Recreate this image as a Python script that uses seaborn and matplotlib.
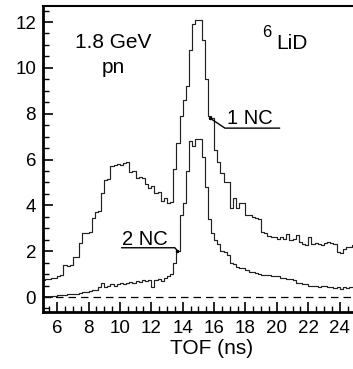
import numpy as np
import pandas as pd
import seaborn as sns
import matplotlib.pyplot as plt
from matplotlib.ticker import MultipleLocator

# TOF bins of 0.2 ns from 5 to 25 ns
edges = [round(5.0 + 0.2 * i, 2) for i in range(101)]
centers = [round(5.1 + 0.2 * i, 2) for i in range(100)]

one_nc = [
    0.75, 0.8, 0.8, 0.85, 0.85, 0.9, 0.95, 1.4, 1.35, 1.4,
    1.75, 1.75, 2.35, 2.8, 2.8, 2.85, 3.45, 3.7, 3.75, 4.55,
    5.1, 5.15, 5.7, 5.75, 5.8, 5.75, 5.85, 5.9, 5.45, 5.5,
    5.2, 5.25, 5.2, 4.95, 4.75, 4.85, 4.55, 4.6, 4.2, 4.3,
    4.1, 4.15, 5.6, 6.7, 7.9, 8.6, 9.2, 10.8, 11.9, 12.1,
    12.1, 11.2, 9.5, 7.9, 7.8, 6.4, 5.9, 5.4, 5.0, 5.0,
    3.9, 4.3, 3.9, 4.1, 4.1, 3.6, 3.6, 3.5, 3.45, 3.4,
    2.85, 2.8, 2.65, 2.6, 2.6, 2.55, 2.6, 2.55, 2.75, 2.5,
    2.55, 2.7, 2.4, 2.3, 2.25, 2.6, 2.3, 2.35, 2.3, 2.25,
    2.35, 2.4, 2.35, 2.3, 1.95, 1.9, 2.1, 2.2, 2.2, 2.25,
]
two_nc = [
    0.0, 0.0, 0.02, 0.05, 0.05, 0.08, 0.1, 0.1, 0.12, 0.12,
    0.15, 0.15, 0.18, 0.2, 0.2, 0.25, 0.3, 0.3, 0.45, 0.6,
    0.45, 0.5, 0.55, 0.5, 0.55, 0.6, 0.55, 0.6, 0.65, 0.6,
    0.7, 0.65, 0.75, 0.7, 0.75, 0.45, 0.75, 0.8, 0.7, 0.85,
    0.9, 1.0, 1.5, 2.0, 3.6, 4.1, 5.5, 6.8, 6.6, 6.9,
    6.9, 6.1, 4.8, 3.4, 2.8, 2.5, 2.3, 2.0, 1.95, 1.85,
    1.5, 1.45, 1.3, 1.25, 1.25, 1.2, 1.1, 1.1, 1.05, 1.0,
    0.95, 0.95, 0.95, 0.9, 0.9, 0.9, 0.85, 0.85, 0.8, 0.8,
    0.75, 0.6, 0.6, 0.55, 0.55, 0.5, 0.5, 0.5, 0.45, 0.5,
    0.5, 0.45, 0.45, 0.4, 0.45, 0.35, 0.45, 0.4, 0.45, 0.45,
]

sns.set_style("ticks")
plt.rcParams['font.family'] = ['Liberation Sans', 'DejaVu Sans']
for k in ("text.color", "axes.labelcolor", "xtick.color", "ytick.color", "axes.edgecolor"):
    plt.rcParams[k] = "black"

fig = plt.figure(figsize=(3.53, 3.69), dpi=100)
ax = fig.add_axes([0.1218, 0.1553, 0.8782, 0.8285])

for vals in (one_nc, two_nc):
    df = pd.DataFrame({"tof": centers, "counts": vals})
    sns.histplot(data=df, x="tof", weights="counts", bins=edges, element="step",
                 fill=False, color="#222222", linewidth=0.85, ax=ax)

ax.axhline(0, color="black", lw=0.9, ls=(0, (6, 4)))

ax.set_xlim(5.1, 24.85)
ax.set_ylim(-0.64, 12.7)
ax.xaxis.set_major_locator(MultipleLocator(2))
ax.xaxis.set_minor_locator(MultipleLocator(0.5))
ax.yaxis.set_major_locator(MultipleLocator(2))
ax.yaxis.set_minor_locator(MultipleLocator(0.5))
ax.set_xticks(range(6, 25, 2))
ax.tick_params(which="major", direction="in", length=7, width=1.2, labelsize=13.5)
ax.tick_params(which="minor", direction="in", length=4, width=1.0)
ax.tick_params(axis="x", pad=6)
ax.tick_params(axis="y", pad=5)

ax.spines["right"].set_visible(False)
for s in ("left", "bottom"):
    ax.spines[s].set_linewidth(2)
ax.spines["top"].set_linewidth(1.5)

ax.set_ylabel("")
ax.set_xlabel("TOF (ns)", fontsize=15)
ax.xaxis.set_label_coords(0.545, -0.09)

# annotations
ax.text(9.6, 11.1, "1.8 GeV", fontsize=15, ha="center", va="center")
ax.text(9.6, 10.0, "pn", fontsize=15, ha="center", va="center")
ax.text(19.36, 11.54, "6", fontsize=12, ha="center", va="center")
ax.text(19.98, 11.06, "LiD", fontsize=15, ha="left", va="center")

ax.plot([15.73, 16.69, 20.18], [7.81, 7.37, 7.37], color="black", lw=1)
ax.plot([15.73], [7.81], "k.", ms=3)
ax.text(16.8, 7.55, "1 NC", fontsize=14.5, ha="left", va="baseline")

ax.plot([10.1, 13.5, 13.65], [2.15, 2.15, 2.03], color="black", lw=1)
ax.plot([13.65], [2.03], "k.", ms=3)
ax.text(10.15, 2.27, "2 NC", fontsize=14.5, ha="left", va="baseline")

fig.savefig("out.png", dpi=100)
